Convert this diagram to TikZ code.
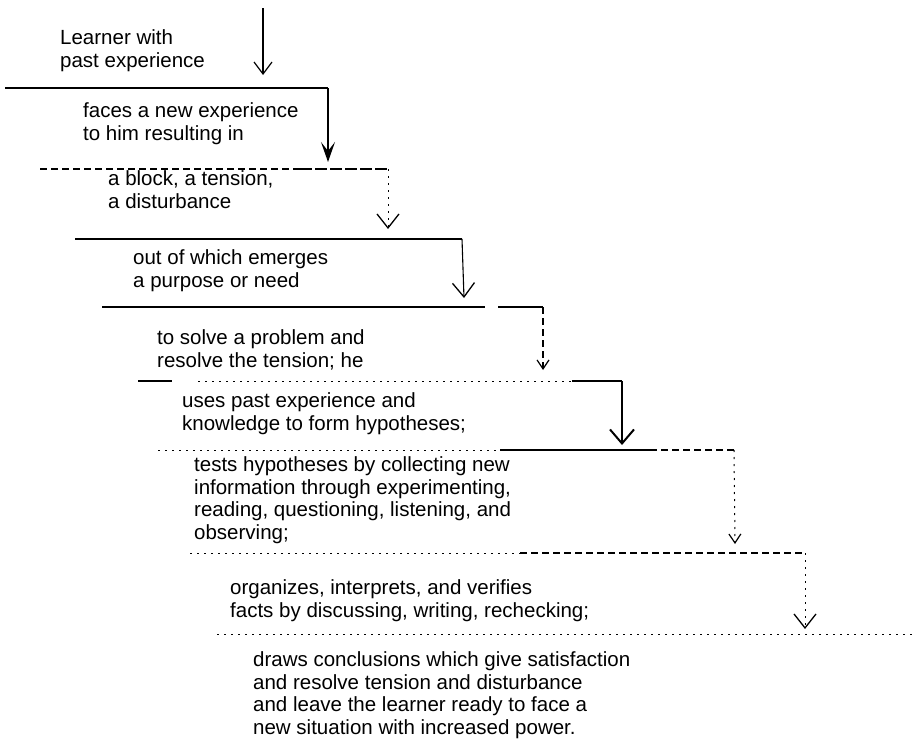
\documentclass[tikz,border=0pt]{standalone}
\usepackage{fontspec}
\setmainfont{Liberation Sans}
\usetikzlibrary{arrows.meta}
\begin{document}
\begin{tikzpicture}[x=1pt,y=-1pt,
  rule/.style={line width=1.4pt},
  faint/.style={line width=1.1pt, dash pattern=on 7pt off 4pt},
  dotty/.style={line width=1pt, dash pattern=on 2pt off 5pt},
  txt/.style={anchor=base west, align=left, inner sep=0pt,
    font=\fontsize{20.5}{22.5}\selectfont},
  vhead/.style={-{Straight Barb[length=12pt,width=18pt,line width=1.2pt]}},
  widehead/.style={-{Straight Barb[length=14pt,width=22pt,line width=1.3pt]}},
  bighead/.style={-{Straight Barb[length=14pt,width=24pt,line width=2pt]}},
  fillhead/.style={-{Stealth[length=20pt,width=14pt,inset=9pt]}},
  smallhead/.style={-{Straight Barb[length=9pt,width=12pt,line width=1.2pt]}}
]
\useasboundingbox (0,0) rectangle (916,744);

% text nodes (positioned at the baseline of their last line)
\node[txt] (t0) at (60,67)  {Learner with\\past experience};
\node[txt] (t1) at (83,140) {faces a new experience\\to him resulting in};
\node[txt] (t2) at (108,208) {a block, a tension,\\a disturbance};
\node[txt] (t3) at (133,287) {out of which emerges\\a purpose or need};
\node[txt] (t4) at (157,367) {to solve a problem and\\resolve the tension; he};
\node[txt] (t5) at (182,430) {uses past experience and\\knowledge to form hypotheses;};
\node[txt] (t6) at (194,539) {tests hypotheses by collecting new\\information through experimenting,\\reading, questioning, listening, and\\observing;};
\node[txt] (t7) at (230,617) {organizes, interprets, and verifies\\facts by discussing, writing, rechecking;};
\node[txt] (t8) at (253,734) {draws conclusions which give satisfaction\\and resolve tension and disturbance\\and leave the learner ready to face a\\new situation with increased power.};

% coordinates of the steps
\coordinate (top) at (263,8);
\coordinate (a0) at (263,75);
\coordinate (l1a) at (5,88);   \coordinate (l1b) at (328,88);  \coordinate (a1) at (328,162);
\coordinate (l2a) at (40,169); \coordinate (l2m) at (300,169); \coordinate (l2b) at (388,169); \coordinate (a2) at (388,229);
\coordinate (l3a) at (75,239); \coordinate (l3b) at (462,239); \coordinate (a3) at (464,298);
\coordinate (l4a) at (102,307); \coordinate (l4m) at (485,307); \coordinate (l4n) at (498,307); \coordinate (l4b) at (543,307); \coordinate (a4) at (543,370);
\coordinate (l5a) at (138,381); \coordinate (l5m) at (172,381); \coordinate (l5n) at (198,381); \coordinate (l5o) at (572,381); \coordinate (l5b) at (622,381); \coordinate (a5) at (622,445);
\coordinate (l6a) at (158,450); \coordinate (l6m) at (500,450); \coordinate (l6n) at (650,450); \coordinate (l6b) at (734,450); \coordinate (a6) at (735,544);
\coordinate (l7a) at (190,553); \coordinate (l7m) at (520,553); \coordinate (l7b) at (805,553); \coordinate (a7) at (805,629);
\coordinate (l8a) at (217,634); \coordinate (l8b) at (916,634);

% arrow 0
\draw[line width=1.1pt, vhead] (top) -- (a0);
% step 1
\draw[rule] (l1a) -- (l1b);
\draw[rule, fillhead] (l1b) -- (a1);
% step 2
\draw[faint] (l2a) -- (l2m);
\draw[line width=1.2pt, dash pattern=on 12pt off 3pt] (l2m) -- (l2b);
\draw[dotty, widehead] (l2b) -- (a2);
% step 3
\draw[rule] (l3a) -- (l3b);
\draw[line width=1.1pt, widehead] (l3b) -- (a3);
% step 4
\draw[rule] (l4a) -- (l4m);
\draw[rule] (l4n) -- (l4b);
\draw[faint, smallhead] (l4b) -- (a4);
% step 5
\draw[rule] (l5a) -- (l5m);
\draw[dotty] (l5n) -- (l5o);
\draw[rule] (l5o) -- (l5b);
\draw[line width=1.6pt, bighead] (l5b) -- (a5);
% step 6
\draw[dotty] (l6a) -- (l6m);
\draw[rule] (l6m) -- (l6n);
\draw[faint] (l6n) -- (l6b);
\draw[dotty, smallhead] (l6b) -- (a6);
% step 7
\draw[dotty] (l7a) -- (l7m);
\draw[faint] (l7m) -- (l7b);
\draw[dotty, widehead] (l7b) -- (a7);
% step 8
\draw[dotty] (l8a) -- (l8b);
\end{tikzpicture}
\end{document}
